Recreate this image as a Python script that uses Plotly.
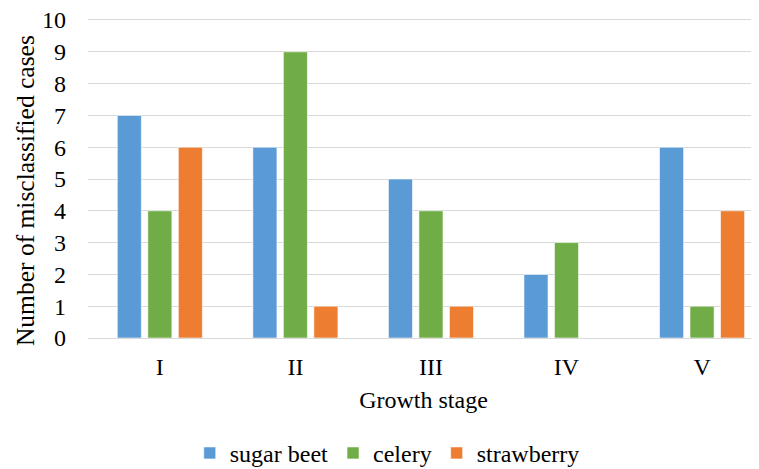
import plotly.graph_objects as go

stages = ["I", "II", "III", "IV", "V"]
sugar_beet = [7, 6, 5, 2, 6]
celery = [4, 9, 4, 3, 1]
strawberry = [6, 1, 1, 0, 4]

series = [("sugar beet", sugar_beet, "#5B9BD5"),
          ("celery", celery, "#70AD47"),
          ("strawberry", strawberry, "#ED7D31")]

fig = go.Figure()
for name, vals, col in series:
    fig.add_trace(go.Bar(x=stages, y=vals, name=name, marker_color=col,
                         marker_line=dict(color="rgba(255,255,255,0.6)", width=1)))

font = "Liberation Serif"
fig.update_layout(
    template="none",
    width=751, height=461,
    margin=dict(l=80, r=0, t=12, b=131, autoexpand=False),
    paper_bgcolor="white", plot_bgcolor="white",
    barmode="group", bargap=0.325, bargroupgap=0.21,
    font=dict(family=font, size=24, color="#000000"),
    showlegend=True,
    legend=dict(orientation="h", xref="container", yref="container",
                x=0.505, xanchor="center", y=0.034, yanchor="middle",
                itemwidth=30, traceorder="normal"),
    xaxis=dict(range=[-0.53, 4.42], showgrid=False, showline=True, mirror=True,
               linecolor="#D9D9D9", linewidth=1.3, ticks="",
               tickfont=dict(family=font, size=24), automargin=False, ticklabelstandoff=7,
               title=dict(text="Growth stage", font=dict(family=font, size=24), standoff=12)),
    yaxis=dict(range=[0, 10], tickvals=list(range(0, 11)), showgrid=True,
               gridcolor="#D9D9D9", gridwidth=1.2, ticklabeloverflow="allow",
               zeroline=False, showline=False, ticks="", tickfont=dict(family=font, size=24),
               automargin=False, ticklabelstandoff=21),
    annotations=[dict(text="Number of misclassified cases", textangle=-90,
                      xref="paper", yref="paper", x=-0.094, y=0.465,
                      xanchor="center", yanchor="middle", showarrow=False,
                      font=dict(family=font, size=25.5, color="#000000"))],
)
fig.update_layout(legend_font_family=font, legend_font_size=24, legend_font_color="#000000")
fig.write_html("out.html")
